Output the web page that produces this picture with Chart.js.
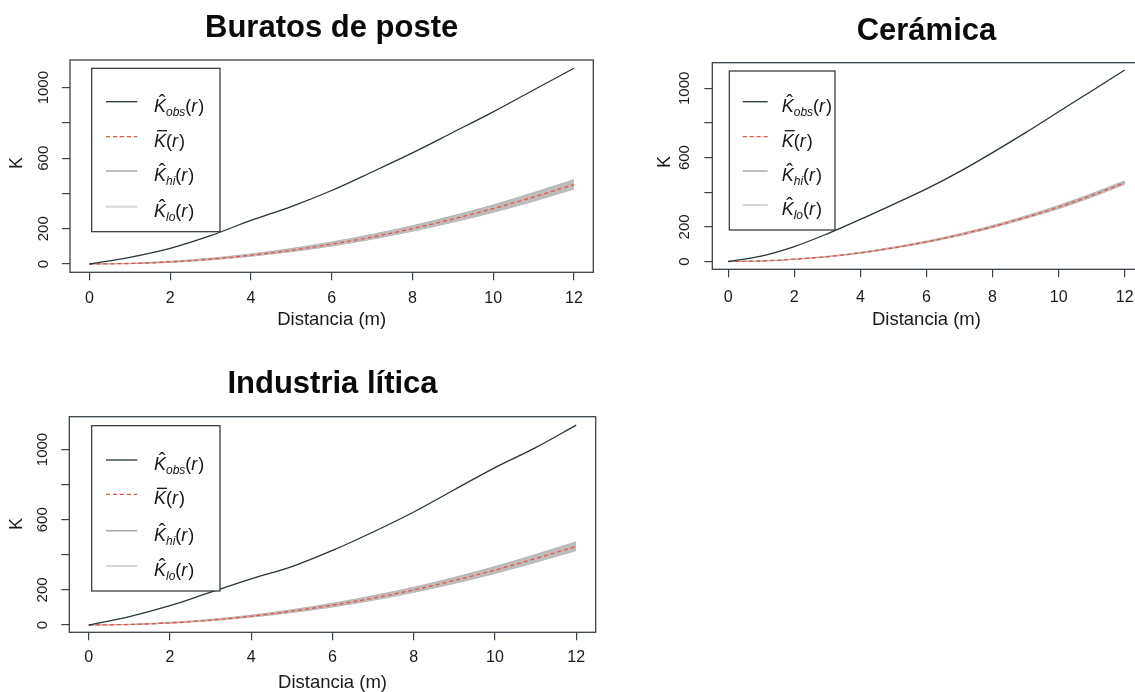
<!DOCTYPE html>
<html>
<head>
<meta charset="utf-8">
<script src="https://cdn.jsdelivr.net/npm/chart.js@4.4.1/dist/chart.umd.min.js"></script>
<style>
html, body { margin: 0; padding: 0; background: #fff; overflow: hidden; width: 1135px; height: 692px; }
canvas { position: absolute; left: 0; top: 0; }
</style>
</head>
<body>
<canvas id="c1" width="1150" height="692"></canvas>
<canvas id="c2" width="1150" height="692"></canvas>
<canvas id="c3" width="1150" height="692"></canvas>
<script>
// distances (m) and ticks
var distancia = [0, 1, 2, 3, 4, 5, 6, 7, 8, 9, 10, 11, 12];
var xTicks = [0, 2, 4, 6, 8, 10, 12];
var yTicks = [0, 200, 400, 600, 800, 1000];
var yTickLabels = ['0', '200', '', '600', '', '1000'];

// Buratos de poste
var buratosObs  = [0, 38, 89, 161, 247, 326, 417, 522, 630, 746, 863, 987, 1110];
var buratosTheo = [0, 3, 12, 28, 50, 78, 113, 153, 201, 255, 314, 380, 450];
var buratosHi   = [0, 4, 16, 33, 57, 88, 125, 168, 217, 273, 335, 405, 478];
var buratosLo   = [0, 2, 9, 23, 44, 70, 102, 141, 186, 237, 293, 356, 425];

// Cerámica
var ceramicaObs  = [0, 31, 86, 160, 243, 330, 419, 519, 629, 744, 865, 985, 1106];
var ceramicaTheo = [0, 3, 13, 28, 50, 79, 113, 154, 201, 255, 314, 381, 455];
var ceramicaHi   = [0, 4, 14, 30, 53, 83, 118, 160, 208, 263, 324, 392, 466];
var ceramicaLo   = [0, 2, 12, 26, 48, 76, 109, 149, 195, 248, 305, 371, 446];

// Industria lítica
var liticaObs  = [0, 48, 110, 187, 263, 333, 425, 530, 644, 771, 897, 1011, 1139];
var liticaTheo = [0, 3, 12, 28, 50, 79, 113, 153, 200, 254, 313, 379, 448];
var liticaHi   = [0, 4, 15, 32, 56, 87, 124, 167, 215, 271, 333, 402, 474];
var liticaLo   = [0, 2, 10, 24, 45, 71, 103, 141, 186, 237, 294, 357, 424];

var FONT = '"Liberation Sans", Arial, sans-serif';
var AXIS = '#3a444c';

function pts(vals) {
    return distancia.map(function (d, i) { return { x: d, y: vals[i] }; });
}

// hat / bar K label like R's plotmath
function mathLabel(ctx, x, y, sub, bar) {
    var base = y + 10;
    ctx.fillStyle = '#151515';
    ctx.textAlign = 'left';
    ctx.textBaseline = 'alphabetic';
    ctx.font = 'italic 18px ' + FONT;
    ctx.fillText('K', x, base);
    var kw = ctx.measureText('K').width;
    if (bar) {
        ctx.strokeStyle = '#151515';
        ctx.lineWidth = 1.3;
        ctx.beginPath();
        ctx.moveTo(x + 3, base - 16);
        ctx.lineTo(x + kw + 1, base - 16);
        ctx.stroke();
    } else {
        ctx.font = '20px ' + FONT;
        ctx.textAlign = 'center';
        ctx.fillText('\u02C6', x + kw / 2 + 2, base - 3);
        ctx.textAlign = 'left';
    }
    var cx = x + kw;
    if (sub) {
        ctx.font = 'italic 12px ' + FONT;
        ctx.fillText(sub, cx, base + 4);
        cx += ctx.measureText(sub).width;
    }
    ctx.font = '18px ' + FONT;
    ctx.fillText('(', cx, base);
    cx += ctx.measureText('(').width;
    ctx.font = 'italic 18px ' + FONT;
    ctx.fillText('r', cx, base);
    cx += ctx.measureText('r').width + 1;
    ctx.font = '18px ' + FONT;
    ctx.fillText(')', cx, base);
}

var rDecor = {
    id: 'rDecor',
    afterDraw: function (chart) {
        var p = chart.options.plugins.rDecor;
        var ctx = chart.ctx;
        var a = chart.chartArea;
        var xs = chart.scales.x, ys = chart.scales.y;
        ctx.save();
        // frame
        ctx.strokeStyle = AXIS;
        ctx.lineWidth = 1.3;
        ctx.strokeRect(a.left, a.top, a.right - a.left, a.bottom - a.top);

        // title
        ctx.fillStyle = '#0a0a0a';
        ctx.font = 'bold 31px ' + FONT;
        ctx.textAlign = 'center';
        ctx.textBaseline = 'middle';
        ctx.fillText(p.title, (a.left + a.right) / 2, p.titleY);

        // x tick labels
        ctx.fillStyle = '#1a1a1a';
        ctx.font = '16px ' + FONT;
        xTicks.forEach(function (v) {
            ctx.fillText(String(v), xs.getPixelForValue(v), p.xTickY);
        });
        ctx.font = '18.5px ' + FONT;
        ctx.fillText('Distancia (m)', (a.left + a.right) / 2, p.xLabelY);

        // y tick labels, rotated as in R
        ctx.font = '15px ' + FONT;
        yTicks.forEach(function (v, i) {
            if (!yTickLabels[i]) return;
            ctx.save();
            ctx.translate(p.yLabX, ys.getPixelForValue(v));
            ctx.rotate(-Math.PI / 2);
            ctx.fillText(yTickLabels[i], 0, 0);
            ctx.restore();
        });
        ctx.save();
        ctx.font = '18px ' + FONT;
        ctx.translate(p.kX, p.kY);
        ctx.rotate(-Math.PI / 2);
        ctx.fillText('K', 0, 0);
        ctx.restore();

        // legend
        var L = p.legend;
        ctx.fillStyle = '#fff';
        ctx.fillRect(L.l, L.t, L.r - L.l, L.b - L.t);
        ctx.strokeStyle = '#2a2f33';
        ctx.lineWidth = 1.2;
        ctx.strokeRect(L.l, L.t, L.r - L.l, L.b - L.t);
        var entries = [
            { ds: 0, sub: 'obs', bar: false },
            { ds: 1, sub: '', bar: true },
            { ds: 2, sub: 'hi', bar: false },
            { ds: 3, sub: 'lo', bar: false }
        ];
        entries.forEach(function (e, i) {
            var d = chart.data.datasets[e.ds];
            var y = L.rows[i];
            ctx.strokeStyle = d.legendColor || d.borderColor;
            ctx.lineWidth = d.legendWidth || d.borderWidth;
            ctx.setLineDash(d.borderDash || []);
            ctx.beginPath();
            ctx.moveTo(L.x0, y);
            ctx.lineTo(L.x1, y);
            ctx.stroke();
            ctx.setLineDash([]);
            mathLabel(ctx, L.tx, y, e.sub, e.bar);
        });
        ctx.restore();
    }
};

function makePanel(id, cfg, obs, theo, hi, lo) {
    var a = cfg.area;
    return new Chart(document.getElementById(id), {
        type: 'line',
        data: {
            datasets: [
                { label: 'obs', data: pts(obs), borderColor: '#263538', borderWidth: 1.3, order: 1 },
                { label: 'theo', data: pts(theo), borderColor: '#f0503c', borderWidth: 1.3, borderDash: [4, 3], order: 2 },
                { label: 'hi', data: pts(hi), borderColor: '#b4b4b4', borderWidth: 1, fill: '+1',
                  backgroundColor: '#bcbcbc', legendColor: '#a9a9a9', legendWidth: 1.5, order: 3 },
                { label: 'lo', data: pts(lo), borderColor: '#b4b4b4', borderWidth: 1,
                  legendColor: '#d6d6d6', legendWidth: 2, order: 4 }
            ]
        },
        options: {
            responsive: false,
            animation: false,
            events: [],
            layout: { padding: { left: a.l - 12, top: a.t, right: 1150 - a.r, bottom: 692 - a.b - 12 } },
            elements: { point: { radius: 0 }, line: { cubicInterpolationMode: 'monotone' } },
            scales: {
                x: {
                    type: 'linear', min: -0.48, max: 12.48,
                    afterBuildTicks: function (s) { s.ticks = xTicks.map(function (v) { return { value: v }; }); },
                    afterFit: function (s) { s.height = 12; },
                    ticks: { display: false },
                    border: { display: false },
                    grid: { drawOnChartArea: false, drawTicks: true, tickLength: 8, color: AXIS, lineWidth: 1.2 }
                },
                y: {
                    type: 'linear', min: cfg.ymin, max: cfg.ymax,
                    afterBuildTicks: function (s) { s.ticks = yTicks.map(function (v) { return { value: v }; }); },
                    afterFit: function (s) { s.width = 12; },
                    ticks: { display: false },
                    border: { display: false },
                    grid: { drawOnChartArea: false, drawTicks: true, tickLength: 8, color: AXIS, lineWidth: 1.2 }
                }
            },
            plugins: {
                legend: { display: false },
                tooltip: { enabled: false },
                rDecor: cfg
            }
        },
        plugins: [rDecor]
    });
}

makePanel('c1', {
    title: 'Buratos de poste', titleY: 28, xTickY: 299, xLabelY: 320, yLabX: 44, kX: 17, kY: 163,
    area: { l: 70, t: 60, r: 593.3, b: 272.3 }, ymin: -47, ymax: 1157,
    legend: { l: 91.7, t: 68.3, r: 220, b: 231.7, x0: 106, x1: 137.3, tx: 154, rows: [101.7, 136.7, 171, 206.7] }
}, buratosObs, buratosTheo, buratosHi, buratosLo);

makePanel('c2', {
    title: 'Cerámica', titleY: 31, xTickY: 298, xLabelY: 320, yLabX: 685, kX: 665, kY: 162,
    area: { l: 712.3, t: 62.7, r: 1140.6, b: 269.3 }, ymin: -45, ymax: 1148,
    legend: { l: 729.3, t: 71, r: 835, b: 230, x0: 742.7, x1: 767.7, tx: 781.7, rows: [101.7, 136.7, 171, 205] }
}, ceramicaObs, ceramicaTheo, ceramicaHi, ceramicaLo);

makePanel('c3', {
    title: 'Industria lítica', titleY: 384, xTickY: 658, xLabelY: 683, yLabX: 43, kX: 17, kY: 524,
    area: { l: 69.3, t: 416.7, r: 595.7, b: 632.3 }, ymin: -41.6, ymax: 1187,
    legend: { l: 91.7, t: 425.7, r: 220, b: 591, x0: 106, x1: 137.3, tx: 154, rows: [460, 494.3, 530.7, 566] }
}, liticaObs, liticaTheo, liticaHi, liticaLo);
</script>
</body>
</html>
